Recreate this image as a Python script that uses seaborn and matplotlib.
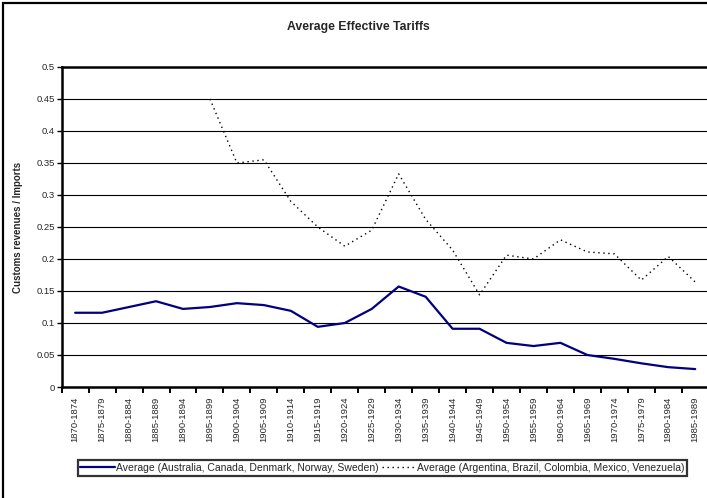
import numpy as np
import pandas as pd
import matplotlib
matplotlib.use("Agg")
import matplotlib.pyplot as plt
from matplotlib.patches import Rectangle
import seaborn as sns

periods = ["1870-1874", "1875-1879", "1880-1884", "1885-1889", "1890-1894",
           "1895-1899", "1900-1904", "1905-1909", "1910-1914", "1915-1919",
           "1920-1924", "1925-1929", "1930-1934", "1935-1939", "1940-1944",
           "1945-1949", "1950-1954", "1955-1959", "1960-1964", "1965-1969",
           "1970-1974", "1975-1979", "1980-1984", "1985-1989"]

core_avg = [0.116, 0.116, 0.125, 0.134, 0.122, 0.125, 0.131, 0.128, 0.119, 0.094,
            0.100, 0.122, 0.157, 0.141, 0.091, 0.091, 0.069, 0.064, 0.069, 0.050,
            0.044, 0.037, 0.031, 0.028]

latam_avg = [np.nan, np.nan, np.nan, np.nan, np.nan, 0.450, 0.350, 0.355, 0.290, 0.250,
             0.220, 0.245, 0.333, 0.262, 0.214, 0.144, 0.206, 0.200, 0.230, 0.211,
             0.208, 0.167, 0.204, 0.164]

core_label = "Average (Australia, Canada, Denmark, Norway, Sweden)"
latam_label = "Average (Argentina, Brazil, Colombia, Mexico, Venezuela)"

df = pd.DataFrame({"period": periods, "core": core_avg, "latam": latam_avg})

sns.set_style("white")
plt.rcParams["font.family"] = ["Liberation Sans", "DejaVu Sans"]

W, H = 707, 498
fig = plt.figure(figsize=(W / 100, H / 100), dpi=100)

# chart-area frame (left and top edges visible)
fig.patches.append(Rectangle((3 / W, -0.05), 1.2, 1 - 3 / H + 0.05,
                             transform=fig.transFigure, fill=False,
                             edgecolor="black", linewidth=1.6))

ax = fig.add_axes([61.7 / W, 111 / H, 647 / W, 320 / H])

sns.lineplot(data=df, x="period", y="core", ax=ax, color="#000080",
             linewidth=1.6, label=core_label, sort=False)
sns.lineplot(data=df.dropna(), x="period", y="latam", ax=ax, color="black",
             linewidth=1.0, linestyle=(0, (1, 2.6)), label=latam_label, sort=False)

n = len(periods)
ax.set_xlim(-0.5, n - 0.5)
ax.set_ylim(0, 0.5)
ax.set_yticks(np.arange(0, 0.501, 0.05))
ax.set_yticklabels(["0", "0.05", "0.1", "0.15", "0.2", "0.25", "0.3", "0.35",
                    "0.4", "0.45", "0.5"])
ax.yaxis.grid(True, color="black", linewidth=0.8)
ax.xaxis.grid(False)
ax.set_axisbelow(True)

ax.set_xticks(range(n))
ax.set_xticklabels(periods, rotation=90)
ax.set_xticks(np.arange(-0.5, n, 1.0), minor=True)
ax.tick_params(axis="x", which="major", length=0, pad=7, labelsize=6.8)
ax.tick_params(axis="x", which="minor", length=4.5, width=1.4, direction="out",
               color="black", bottom=True)
ax.tick_params(axis="y", length=3.5, width=1.0, direction="out", color="black",
               pad=1.5, labelsize=6.8, left=True)

for side in ["left", "top", "bottom"]:
    ax.spines[side].set_color("black")
    ax.spines[side].set_linewidth(1.8)
ax.spines["right"].set_visible(False)

ax.set_xlabel("")
ax.set_ylabel("Customs revenues / Imports", fontsize=7, fontweight="bold")
ax.yaxis.set_label_coords((22.6 - 61.7) / 647, 0.5)

fig.text(358 / W, 1 - 27 / H, "Average Effective Tariffs", ha="center",
         va="center", fontsize=8.8, fontweight="bold")

ax.get_legend().remove()
handles, labels = ax.get_legend_handles_labels()
leg = fig.legend(handles, labels, loc="center", ncol=2,
                 bbox_to_anchor=(382.5 / W, 1 - 468 / H), fontsize=7.5,
                 frameon=True, fancybox=False, shadow=False,
                 handlelength=3.3, handletextpad=0.1, columnspacing=0.35,
                 borderpad=0.25, borderaxespad=0)
leg.get_frame().set_edgecolor("black")
leg.get_frame().set_linewidth(1.6)

fig.savefig("out.png", dpi=100)
